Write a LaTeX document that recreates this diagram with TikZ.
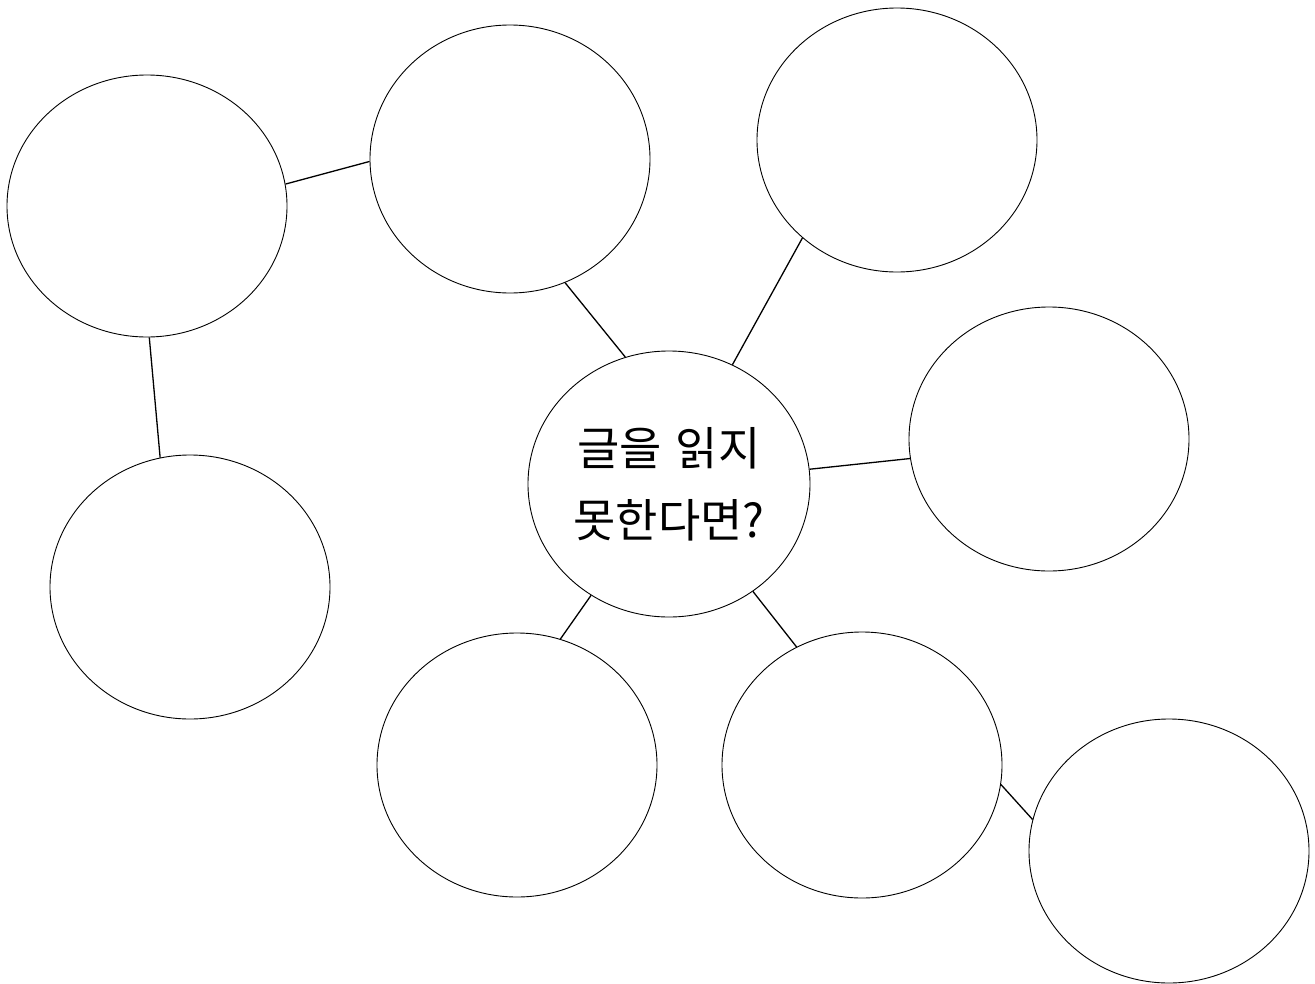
\documentclass[tikz,border=0pt]{standalone}
\usepackage{fontspec}
\newfontfamily\kr{Noto Sans CJK KR}
\usetikzlibrary{shapes.geometric}
\begin{document}
\begin{tikzpicture}[x=1pt,y=-1pt,
  bubble/.style={draw, ellipse, line width=0.9pt, inner sep=0pt, minimum width=280pt, minimum height=264pt},
  link/.style={line width=1.3pt}]
\useasboundingbox (0,0) rectangle (1315,983);
\node[bubble, minimum height=262pt] (e1) at (147,206) {};
\node[bubble, minimum height=268pt] (e2) at (510,159) {};
\node[bubble] (e3) at (897,140) {};
\node[bubble] (e4) at (1049,439) {};
\node[bubble, minimum width=282pt, minimum height=266pt, align=center, font=\kr\fontsize{46}{72}\selectfont] (e5) at (669,484) {글을\hspace{0.3em}읽지\\못한다면?};
\node[bubble] (e6) at (190,587) {};
\node[bubble] (e7) at (517,765) {};
\node[bubble, minimum height=266pt] (e8) at (862,765) {};
\node[bubble] (e9) at (1169,851) {};
\draw[link] (e1.9.7) -- (e2.181.6);
\draw[link] (e1.-89.1) -- (e6.103.5);
\draw[link] (e2.-66.9) -- (e5.109.7);
\draw[link] (e5.62.4) -- (e3.226.8);
\draw[link] (e5.6.7) -- (e4.188.2);
\draw[link] (e5.235.6) -- (e7.71.7);
\draw[link] (e5.-52.1) -- (e8.119.1);
\draw[link] (e8.-8.4) -- (e9.167.9);
\end{tikzpicture}
\end{document}
